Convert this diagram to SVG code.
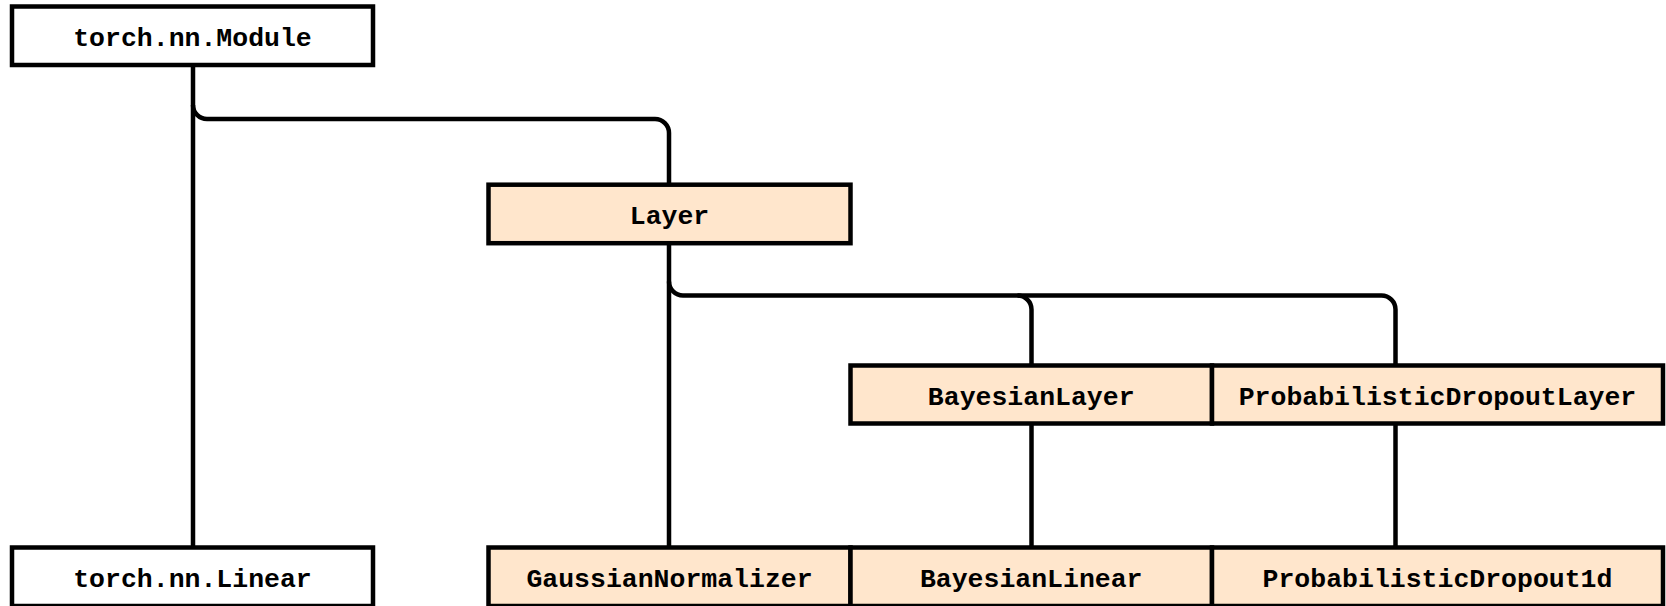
<svg xmlns="http://www.w3.org/2000/svg" width="1666" height="606" viewBox="0 0 1666 606">
<style>
.box{stroke:#000;stroke-width:4.5}
.w{fill:#fff}
.p{fill:#ffe6cc}
.t{font-family:"Liberation Mono","Courier New",monospace;font-weight:bold;font-size:26.5px;text-anchor:middle;fill:#000}
.c{fill:none;stroke:#000;stroke-width:4.5}
</style>
<rect width="1666" height="606" fill="#fff"/>
<g id="connectors">
<path class="c" d="M193,105 A14,14 0 0 0 207,119 H655 A14,14 0 0 1 669,133 V185"/>
<path class="c" d="M193,65 V548"/>
<path class="c" d="M669,243 V548"/>
<path class="c" d="M669,281.5 A14,14 0 0 0 683,295.5 H1017.5 A14,14 0 0 1 1031.5,309.5 V366"/>
<path class="c" d="M1017.5,295.5 H1381.5 A14,14 0 0 1 1395.5,309.5 V366"/>
<path class="c" d="M1031.5,423 V548"/>
<path class="c" d="M1395.5,423 V548"/>
</g>
<g id="n-module"><rect class="box w" x="12" y="6.5" width="361" height="58.5"/><text class="t" x="192.5" y="46">torch.nn.Module</text></g>
<g id="n-linear"><rect class="box w" x="12" y="547.5" width="361" height="58.5"/><text class="t" x="192.5" y="587">torch.nn.Linear</text></g>
<g id="n-layer"><rect class="box p" x="488.5" y="184.7" width="362" height="58.5"/><text class="t" x="669.5" y="224">Layer</text></g>
<g id="n-bayesianlayer"><rect class="box p" x="850.5" y="365.5" width="361.5" height="58"/><text class="t" x="1031.2" y="405">BayesianLayer</text></g>
<g id="n-pdl"><rect class="box p" x="1212" y="365.5" width="451" height="58"/><text class="t" x="1437.5" y="405">ProbabilisticDropoutLayer</text></g>
<g id="n-gauss"><rect class="box p" x="488.5" y="547.5" width="362" height="58.5"/><text class="t" x="669.5" y="587">GaussianNormalizer</text></g>
<g id="n-blinear"><rect class="box p" x="850.5" y="547.5" width="361.5" height="58.5"/><text class="t" x="1031.2" y="587">BayesianLinear</text></g>
<g id="n-pd1d"><rect class="box p" x="1212" y="547.5" width="451" height="58.5"/><text class="t" x="1437.5" y="587">ProbabilisticDropout1d</text></g>
</svg>
